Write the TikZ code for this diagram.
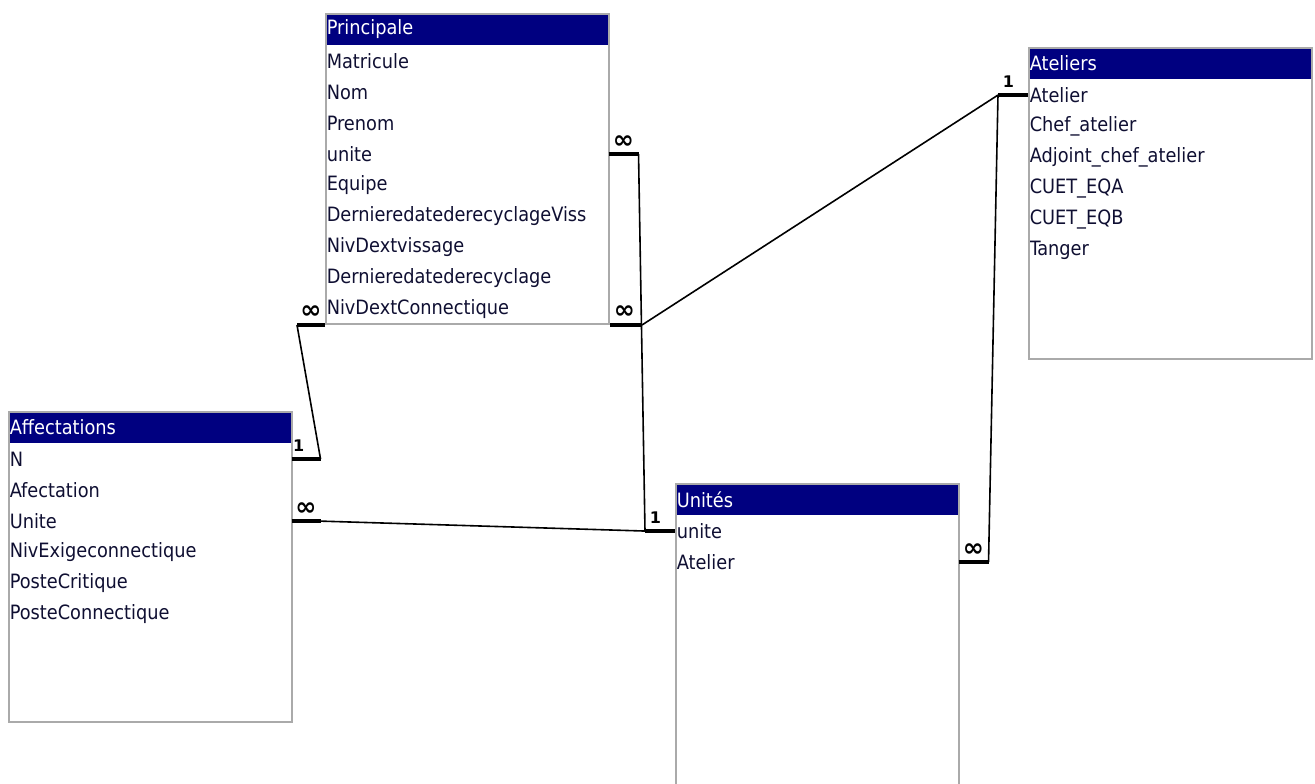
\documentclass[tikz,border=0pt]{standalone}
\usepackage{fontspec}
\setmainfont{DejaVu Sans Condensed}
\newfontfamily\cardfont{DejaVu Sans}
\usetikzlibrary{positioning}
\definecolor{accnavy}{RGB}{0,0,128}
\definecolor{accgray}{RGB}{170,170,170}
\definecolor{acctext}{RGB}{15,15,50}

\begin{document}
\begin{tikzpicture}[
  x=0.75pt, y=-0.75pt,
  head/.style={fill=accnavy, text=white, text width=210pt, minimum height=24pt, inner xsep=1.125pt, inner ysep=0pt, anchor=north west, align=left, font=\fontsize{14.8}{17}\selectfont},
  fld/.style={text=acctext, text width=210pt, minimum height=22.875pt, inner xsep=1.125pt, inner ysep=0pt, align=left, font=\fontsize{14.8}{17}\selectfont},
  frame/.style={draw=accgray, line width=1.5pt, minimum width=212.25pt, anchor=north west, inner sep=0pt},
  rel/.style={line width=1.2pt},
  stub/.style={line width=3pt},
  card/.style={font=\cardfont\bfseries\fontsize{12}{13}\selectfont, inner sep=0pt},
  many/.style={font=\cardfont\bfseries\fontsize{19}{20}\selectfont, inner sep=0pt}
]
\useasboundingbox (0,0) rectangle (1315,784);

% Table Principale
\node[head] (prin) at (325,13) {Principale};
\node[fld, below=0pt of prin] (prin-mat) {Matricule};
\node[fld, below=0pt of prin-mat] (prin-nom) {Nom};
\node[fld, below=0pt of prin-nom] (prin-prenom) {Prenom};
\node[fld, below=0pt of prin-prenom] (prin-unite) {unite};
\node[fld, below=0pt of prin-unite] (prin-equipe) {Equipe};
\node[fld, below=0pt of prin-equipe] (prin-ddrv) {DernieredatederecyclageViss};
\node[fld, below=0pt of prin-ddrv] (prin-ndv) {NivDextvissage};
\node[fld, below=0pt of prin-ndv] (prin-ddr) {Dernieredatederecyclage};
\node[fld, below=0pt of prin-ddr] (prin-ndc) {NivDextConnectique};
\node[frame, minimum height=232.5pt] (prinbox) at (325,13) {};

% Table Ateliers
\node[head] (ate) at (1028,47) {Ateliers};
\node[fld, below=0pt of ate] (ate-atelier) {Atelier};
\node[fld, below=0pt of ate-atelier] (ate-chef) {Chef\_atelier};
\node[fld, below=0pt of ate-chef] (ate-adj) {Adjoint\_chef\_atelier};
\node[fld, below=0pt of ate-adj] (ate-eqa) {CUET\_EQA};
\node[fld, below=0pt of ate-eqa] (ate-eqb) {CUET\_EQB};
\node[fld, below=0pt of ate-eqb] (ate-tanger) {Tanger};
\node[frame, minimum height=233.25pt] (atebox) at (1028,47) {};

% Table Affectations
\node[head] (aff) at (8,411) {Affectations};
\node[fld, below=0pt of aff] (aff-n) {N};
\node[fld, below=0pt of aff-n] (aff-afect) {Afectation};
\node[fld, below=0pt of aff-afect] (aff-unite) {Unite};
\node[fld, below=0pt of aff-unite] (aff-nec) {NivExigeconnectique};
\node[fld, below=0pt of aff-nec] (aff-pcrit) {PosteCritique};
\node[fld, below=0pt of aff-pcrit] (aff-pconn) {PosteConnectique};
\node[frame, minimum height=232.5pt] (affbox) at (8,411) {};

% Table Unités
\node[head] (uni) at (675,483) {Unités};
\node[fld, below=0pt of uni] (uni-unite) {unite};
\node[fld, below=0pt of uni-unite] (uni-atelier) {Atelier};
\node[frame, minimum height=240pt] (unibox) at (675,483) {};

% Points de coude
\coordinate[right=22.5pt of prin-unite.east] (pu);
\coordinate[right=24pt of prinbox.south east] (pc);
\coordinate[left=21pt of prinbox.south west] (pl);
\coordinate[left=22.5pt of ate-atelier.west] (aa);
\coordinate[right=21.75pt of aff-n.east] (an);
\coordinate[right=21.75pt of aff-unite.east] (au);
\coordinate[left=22.5pt of uni-unite.west] (uu);
\coordinate[right=22.5pt of uni-atelier.east] (ua);

% Relations
\draw[rel] (pu) -- (uu);
\draw[rel] (pc) -- (aa);
\draw[rel] (aa) -- (ua);
\draw[rel] (pl) -- (an);
\draw[rel] (au) -- (uu);

\draw[stub] (prin-unite.east) -- (pu) node[many, midway, above=3pt] {∞};
\draw[stub] (prinbox.south east) -- (pc) node[many, pos=0.45, above=3pt] {∞};
\draw[stub] (prinbox.south west) -- (pl) node[many, midway, above=3pt] {∞};
\draw[stub] (aa) -- (ate-atelier.west) node[card, pos=0.35, above=4pt] {1};
\draw[stub] (aff-n.east) -- (an) node[card, pos=0.25, above=4pt] {1};
\draw[stub] (aff-unite.east) -- (au) node[many, midway, above=3pt] {∞};
\draw[stub] (uu) -- (uni-unite.west) node[card, pos=0.35, above=4pt] {1};
\draw[stub] (uni-atelier.east) -- (ua) node[many, midway, above=3pt] {∞};

\end{tikzpicture}
\end{document}
